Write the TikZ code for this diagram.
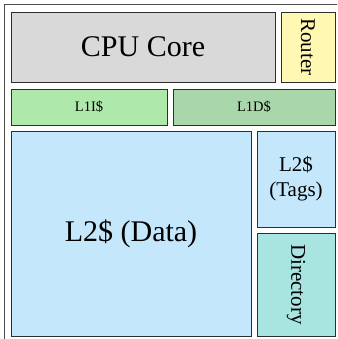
\documentclass[tikz,border=0pt]{standalone}
\usepackage{fontspec}
\newfontfamily\labelfont{LiberationSerif}[Extension=.ttf, UprightFont=*-Regular]
\definecolor{coregray}{HTML}{D9D9D9}
\definecolor{routeryellow}{HTML}{FFF8B3}
\definecolor{lonei}{HTML}{AEE8AA}
\definecolor{loned}{HTML}{A9D6AA}
\definecolor{ltwo}{HTML}{C4E7FB}
\definecolor{dirteal}{HTML}{A8E4E0}
\definecolor{edge}{HTML}{2E2E2E}
\tikzset{
  block/.style={draw=edge, line width=0.9pt, inner sep=0pt, outer sep=0pt,
    anchor=north west, align=center, text=black},
  big/.style={font=\labelfont\fontsize{30}{34}\selectfont},
  mid/.style={font=\labelfont\fontsize{21}{25}\selectfont},
  small/.style={font=\labelfont\fontsize{14.5}{17}\selectfont},
}
\begin{document}
\begin{tikzpicture}[x=1pt, y=-1pt]
  \useasboundingbox (0,0) rectangle (337,339);
  \clip (0,0) rectangle (337,339);
  % tile frame, running past the right and bottom edges
  \draw[draw=edge!85, line width=1.3pt] (4.5,4.5) rectangle (345,345);
  % core row
  \node[block, big, fill=coregray, minimum width=264pt, minimum height=70pt] (cpu) at (11,12) {CPU Core};
  \node[block, mid, fill=routeryellow, minimum width=54pt, minimum height=70pt] (router) at (281,12) {\rotatebox{-90}{Router}};
  % first-level caches
  \node[block, small, fill=lonei, minimum width=156pt, minimum height=36pt] (l1i) at (11,89) {L1I\$};
  \node[block, small, fill=loned, minimum width=162pt, minimum height=36pt] (l1d) at (173,89) {L1D\$};
  % second-level cache and directory
  \node[block, big, fill=ltwo, minimum width=240pt, minimum height=205pt] (l2data) at (11,131) {L2\$ (Data)};
  \node[block, mid, fill=ltwo, minimum width=78pt, minimum height=96pt] (l2tags) at (257,131) {L2\$\\(Tags)};
  \node[block, mid, fill=dirteal, minimum width=78pt, minimum height=103pt] (dir) at (257,233) {\rotatebox{-90}{Directory}};
\end{tikzpicture}
\end{document}
